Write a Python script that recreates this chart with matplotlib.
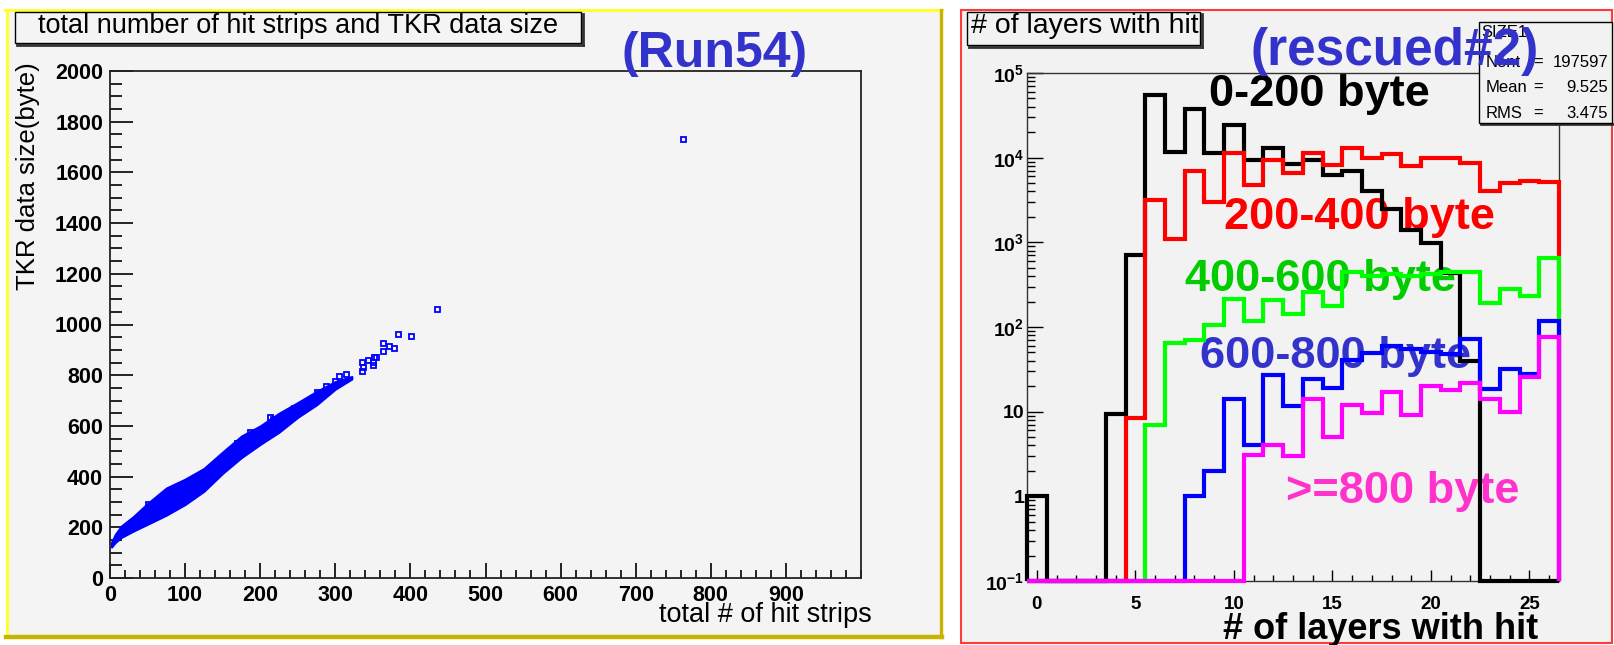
import numpy as np
import matplotlib
matplotlib.use("Agg")
import matplotlib.pyplot as plt
from matplotlib.patches import Rectangle
from matplotlib.lines import Line2D
from matplotlib.ticker import FixedLocator, MultipleLocator, FixedFormatter, LogLocator, NullFormatter

W, H = 1614, 645

# ---------------- left panel data: hit strips vs TKR data size ----------------
# dense band: hit strips, lower / upper data size edge
band_hits = [2, 7, 15, 31, 50, 75, 100, 125, 150, 175, 200, 225, 250, 275, 300, 322]
band_low = [122, 140, 160, 185, 212, 248, 290, 342, 413, 475, 527, 575, 634, 683, 745, 785]
band_high = [140, 172, 205, 242, 294, 355, 390, 432, 497, 560, 600, 650, 692, 736, 775, 795]
# isolated points
sparse_hits = [51, 169, 179, 186, 213, 217, 229, 245, 275, 288, 299, 305, 314, 335, 337,
               350, 350, 335, 343, 351, 354, 363, 363, 371, 378, 384, 401, 435, 763]
sparse_bytes = [292, 531, 544, 577, 636, 626, 636, 671, 734, 758, 777, 795, 803, 815, 833,
                840, 854, 853, 858, 871, 871, 896, 928, 917, 909, 961, 954, 1062, 1732]

# ---------------- right panel data: # of layers with hit ----------------
layers = np.arange(27)
h_0_200 = [1, 0, 0, 0, 9.4, 710, 55000, 11700, 37600, 11400, 24300, 9400, 12900, 8500,
           9400, 6300, 7000, 4000, 2500, 1400, 980, 440, 40, 0, 0, 0, 0]
h_200_400 = [0, 0, 0, 0, 0, 8.5, 3200, 1100, 6900, 3000, 11400, 4800, 9500, 6600, 11400,
             8200, 12900, 10000, 11000, 8000, 10000, 10000, 8600, 4000, 5000, 5300, 5100]
h_400_600 = [0, 0, 0, 0, 0, 0, 7, 65, 70, 106, 214, 119, 210, 142, 262, 179, 450, 400,
             420, 400, 420, 450, 450, 190, 280, 235, 650]
h_600_800 = [0, 0, 0, 0, 0, 0, 0, 0, 1, 2, 14, 4, 27, 11.7, 24, 19, 41, 49, 60, 55, 50,
             48, 72, 18.6, 32, 28, 117]
h_800 = [0, 0, 0, 0, 0, 0, 0, 0, 0, 0, 0, 3.1, 4, 3, 14, 5, 12, 9.7, 17, 9.1, 20, 18, 22,
         14, 10, 26, 76]
series_labels = ["0-200 byte", "200-400 byte", "400-600 byte", "600-800 byte", ">=800 byte"]

ytick_vals = [0.1, 1, 10, 100, 1e3, 1e4, 1e5]
ytick_labels = ["10$^{-1}$", "1", "10", "10$^{2}$", "10$^{3}$", "10$^{4}$", "10$^{5}$"]

stats_name = "SIZE1"
stats_nent = "197597"
stats_mean = "9.525"
stats_rms = "3.475"

# ------------------------------------------------------------------
plt.rcParams['mathtext.default'] = 'regular'
SANS = ['Liberation Sans', 'DejaVu Sans']

fig = plt.figure(figsize=(W / 100, H / 100), dpi=100)
fig.patch.set_facecolor('white')


def fx(x):
    return x / W


def fy(y):
    return 1 - y / H


def rect(x0, y0, x1, y1, **kw):
    r = Rectangle((fx(x0), fy(y1)), (x1 - x0) / W, (y1 - y0) / H,
                  transform=fig.transFigure, **kw)
    fig.add_artist(r)
    return r


def line(xs, ys, **kw):
    l = Line2D([fx(x) for x in xs], [fy(y) for y in ys], transform=fig.transFigure, **kw)
    fig.add_artist(l)
    return l


# panel backgrounds / borders
rect(7, 11, 940, 636, facecolor='#f4f4f4', edgecolor='none', zorder=-5)
line([5, 942], [10, 10], color='#ffff33', lw=2.2, zorder=-4)
line([7, 7], [10, 637], color='#ffff33', lw=2.2, zorder=-4)
line([6, 942], [637, 637], color='#c8b400', lw=3.2, zorder=-4)
line([941, 941], [10, 637], color='#c8b400', lw=2.4, zorder=-4)

rect(961, 10, 1612, 643, facecolor='#f2f2f2', edgecolor='#ff3a3a', lw=1.5, zorder=-5)

# ---------------- left axes ----------------
ax1 = fig.add_axes([fx(110), fy(578), (861 - 110) / W, (578 - 71) / H])
ax1.set_facecolor('#f4f4f4')
ax1.set_xlim(0, 1000)
ax1.set_ylim(0, 2000)
ax1.fill_between(band_hits, band_low, band_high, facecolor='#0000ff', edgecolor='#0000ff',
                 lw=1.5, zorder=2)
ax1.plot(sparse_hits, sparse_bytes, ls='none', marker='s', ms=3.6, mfc='none',
         mec='#0000ff', mew=1.3, zorder=3)
ax1.xaxis.set_major_locator(FixedLocator(list(range(0, 1000, 100))))
ax1.xaxis.set_minor_locator(MultipleLocator(20))
ax1.yaxis.set_major_locator(MultipleLocator(200))
ax1.yaxis.set_minor_locator(MultipleLocator(50))
ax1.tick_params(which='both', direction='in', top=False, right=False, width=1.2)
ax1.tick_params(axis='x', which='major', length=11, pad=5, labelsize=15.5)
ax1.tick_params(axis='x', which='minor', length=5.5)
ax1.tick_params(axis='y', which='major', length=16.5, pad=5, labelsize=15.5)
ax1.tick_params(axis='y', which='minor', length=8.5)
for lab in ax1.get_xticklabels() + ax1.get_yticklabels():
    lab.set_family(SANS)
    lab.set_weight('bold')
for sp in ax1.spines.values():
    sp.set_linewidth(1.3)
    sp.set_color('#222222')

fig.text(fx(28), fy(62), 'TKR data size(byte)', rotation=90, ha='center', va='top',
         fontsize=18.5, family=SANS)
fig.text(fx(872), fy(622), 'total # of hit strips', ha='right', va='baseline',
         fontsize=19.5, family=SANS)

# left title box
line([17, 583], [45, 45], color='#333333', lw=2, zorder=4)
line([583, 583], [14, 45], color='#333333', lw=2, zorder=4)
rect(15, 12, 581, 43, facecolor='#f4f4f4', edgecolor='black', lw=1, zorder=5)
fig.text(fx(38), fy(33), 'total number of hit strips and TKR data size', ha='left',
         va='baseline', fontsize=19.5, family=SANS, zorder=6)

fig.text(fx(715), fy(54), '(Run54)', ha='center', va='center', fontsize=36,
         weight='bold', color='#3333cc', family=SANS, zorder=10)

# ---------------- right axes ----------------
ax2 = fig.add_axes([fx(1027), fy(581), (1559 - 1027) / W, (581 - 73) / H])
ax2.set_facecolor('#f2f2f2')
ax2.set_yscale('log')
ax2.set_xlim(-0.5, 26.5)
ax2.set_ylim(0.1, 1e5)
edges = np.append(layers - 0.5, layers[-1] + 0.5)
line_colors = ['black', '#ff0000', '#00ff00', '#0000ff', '#ff00ff']
for vals, c in zip([h_0_200, h_200_400, h_400_600, h_600_800, h_800], line_colors):
    ax2.stairs(np.clip(np.array(vals, dtype=float), 0.1, None), edges, baseline=0.1,
               color=c, lw=3, clip_on=False, zorder=3)

ax2.yaxis.set_major_locator(FixedLocator(ytick_vals))
ax2.yaxis.set_major_formatter(FixedFormatter(ytick_labels))
ax2.yaxis.set_minor_locator(LogLocator(base=10, subs=range(2, 10)))
ax2.yaxis.set_minor_formatter(NullFormatter())
ax2.xaxis.set_major_locator(FixedLocator(list(range(0, 26, 5))))
ax2.xaxis.set_minor_locator(MultipleLocator(1))
ax2.tick_params(which='both', direction='in', top=False, right=False, width=1)
ax2.tick_params(axis='y', which='major', length=11.5, pad=2, labelsize=14)
ax2.tick_params(axis='y', which='minor', length=5.8)
ax2.tick_params(axis='x', which='major', length=8, pad=11, labelsize=13.5)
ax2.tick_params(axis='x', which='minor', length=4.3)
for lab in ax2.get_xticklabels() + ax2.get_yticklabels():
    lab.set_family(SANS)
    lab.set_weight('bold')
for sp in ax2.spines.values():
    sp.set_linewidth(1.0)
    sp.set_color('#333333')

# series labels (drawn below the histogram lines)
label_colors = ['black', '#ff0000', '#00cc00', '#3333cc', '#ff33cc']
label_pos = [(1209, 106), (1224, 229), (1185, 291), (1200, 368), (1286, 503)]
for s, c, (px, py) in zip(series_labels, label_colors, label_pos):
    ax2.text(fx(px), fy(py), s, transform=fig.transFigure, ha='left', va='baseline',
             fontsize=32.5, weight='bold', color=c, family=SANS, zorder=2, clip_on=False)

fig.text(fx(1223), fy(639), '# of layers with hit', ha='left', va='baseline',
         fontsize=26, weight='bold', family=SANS)

# right title box
line([969, 1202], [47, 47], color='#333333', lw=2, zorder=4)
line([1202, 1202], [14, 47], color='#333333', lw=2, zorder=4)
rect(967, 12, 1200, 45, facecolor='#f2f2f2', edgecolor='black', lw=1, zorder=5)
fig.text(fx(971), fy(33), '# of layers with hit', ha='left', va='baseline',
         fontsize=20.5, family=SANS, zorder=6)

# stats box
line([1481, 1613], [124, 124], color='#333333', lw=2, zorder=4)
rect(1479, 22, 1612, 123, facecolor='#f2f2f2', edgecolor='black', lw=1, zorder=5)
fig.text(fx(1504), fy(37), stats_name, ha='center', va='baseline', fontsize=12,
         family=SANS, zorder=6)
for i, (k, v) in enumerate([('Nent', stats_nent), ('Mean', stats_mean), ('RMS', stats_rms)]):
    yb = [67, 92, 118][i]
    fig.text(fx(1486), fy(yb), k, ha='left', va='baseline', fontsize=12, family=SANS, zorder=6)
    fig.text(fx(1538), fy(yb), '=', ha='center', va='baseline', fontsize=12, family=SANS, zorder=6)
    fig.text(fx(1608), fy(yb), v, ha='right', va='baseline', fontsize=12, family=SANS, zorder=6)

fig.text(fx(1395), fy(51), '(rescued#2)', ha='center', va='center', fontsize=37,
         weight='bold', color='#3333cc', family=SANS, zorder=10)

fig.savefig('out.png', dpi=100, facecolor='white')
